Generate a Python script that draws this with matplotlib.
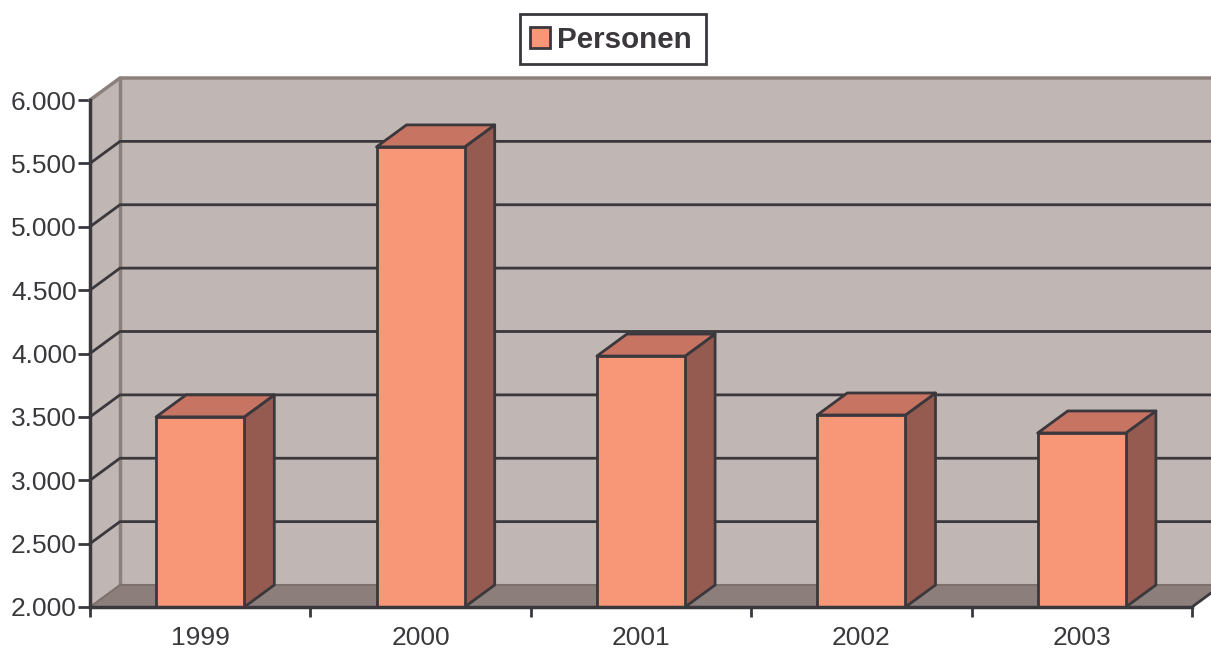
import matplotlib
matplotlib.use('Agg')
import matplotlib.pyplot as plt
from matplotlib.patches import Polygon, Patch, Rectangle

plt.rcParams['font.family'] = ['Liberation Sans', 'DejaVu Sans']

# Daten
years = ['1999', '2000', '2001', '2002', '2003']
personen = [3500, 5630, 3980, 3515, 3373]
y_ticks = [2000, 2500, 3000, 3500, 4000, 4500, 5000, 5500, 6000]
y_labels = ['2.000', '2.500', '3.000', '3.500', '4.000', '4.500', '5.000', '5.500', '6.000']

# Farben
DARK = '#3a383c'
WALL = '#c0b6b3'
WALL_EDGE = '#8c807c'
FLOOR = '#8c7f7b'
FRONT = '#f79778'
TOP = '#c87462'
SIDE = '#955a50'

fig = plt.figure(figsize=(12.11, 6.48), dpi=100)
ax = fig.add_axes([90 / 1211, 41 / 648, 1102 / 1211, 507 / 648])
ax.set_xlim(0, 5)
ax.set_ylim(2000, 6000)

# 3D-Tiefe in Datenkoordinaten (30 px / 22 px)
dx = 30 / (1102 / 5)
dy = 22 / (507 / 4000)
bar_w = 0.40


def poly(points, face, edge='none', lw=0, z=1):
    ax.add_patch(Polygon(points, closed=True, facecolor=face, edgecolor=edge,
                         linewidth=lw, zorder=z, clip_on=False, joinstyle='round'))


# Wände und Boden
poly([(dx, 2000 + dy), (5 + dx, 2000 + dy), (5 + dx, 6000 + dy), (dx, 6000 + dy)], WALL, z=1)
poly([(0, 2000), (dx, 2000 + dy), (dx, 6000 + dy), (0, 6000)], WALL, z=1)
poly([(0, 2000), (dx, 2000 + dy), (5 + dx, 2000 + dy), (5, 2000)], FLOOR, z=1)

ax.plot([dx, dx], [2000 + dy, 6000 + dy], color=WALL_EDGE, lw=2.5, zorder=2, clip_on=False)
ax.plot([0, dx, 5 + dx], [6000, 6000 + dy, 6000 + dy], color=WALL_EDGE, lw=2.5, zorder=2, clip_on=False)
ax.plot([0, dx, 5 + dx], [2000, 2000 + dy, 2000 + dy], color='#7d716e', lw=1.5, zorder=2, clip_on=False)
ax.plot([5, 5 + dx], [2000, 2000 + dy], color=DARK, lw=2, zorder=2, clip_on=False)

# Gitterlinien
for t in y_ticks[1:-1]:
    ax.plot([0, dx, 5 + dx], [t, t + dy, t + dy], color=DARK, lw=2, zorder=3, clip_on=False)

# Balken
x_pos = [i + 0.5 for i in range(len(years))]
for x, v in zip(x_pos, personen):
    l, r = x - bar_w / 2, x + bar_w / 2
    poly([(r, 2000), (r + dx, 2000 + dy), (r + dx, v + dy), (r, v)], SIDE, DARK, 2, z=4)
    poly([(l, v), (l + dx, v + dy), (r + dx, v + dy), (r, v)], TOP, DARK, 2, z=4)
ax.bar(x_pos, [v - 2000 for v in personen], width=bar_w, bottom=2000, color=FRONT,
       edgecolor=DARK, linewidth=2, zorder=5)

# Achsen
for s in ['top', 'right']:
    ax.spines[s].set_visible(False)
for s in ['left', 'bottom']:
    ax.spines[s].set_color(DARK)
    ax.spines[s].set_linewidth(2.5)
    ax.spines[s].set_zorder(6)

ax.set_yticks(y_ticks)
ax.set_yticklabels(y_labels)
ax.set_xticks(range(6))
ax.set_xticklabels([])
ax.set_xticks(x_pos, minor=True)
ax.set_xticklabels(years, minor=True)
ax.tick_params(axis='y', length=8.5, width=2, color=DARK, labelcolor=DARK, labelsize=19, pad=1)
ax.tick_params(axis='x', which='major', length=7.5, width=2, color=DARK)
ax.tick_params(axis='x', which='minor', length=0, labelcolor=DARK, labelsize=19, pad=13.5)

# Legende: Rahmen separat, weil der Innenabstand links/rechts ungleich ist
fig.add_artist(Rectangle((520 / 1211, 1 - 64 / 648), 186 / 1211, 50 / 648,
                         transform=fig.transFigure, facecolor='white', edgecolor=DARK, linewidth=2))
handle = Patch(facecolor=FRONT, edgecolor=DARK, linewidth=2, label='Personen')
fig.legend(handles=[handle], loc='center left', bbox_to_anchor=(530 / 1211, 1 - 40 / 648),
           frameon=False, prop={'weight': 'bold', 'size': 21.3}, labelcolor=DARK,
           handlelength=0.68, handleheight=0.68, handletextpad=0.22,
           borderpad=0, borderaxespad=0)

fig.savefig('out.png', dpi=100)
